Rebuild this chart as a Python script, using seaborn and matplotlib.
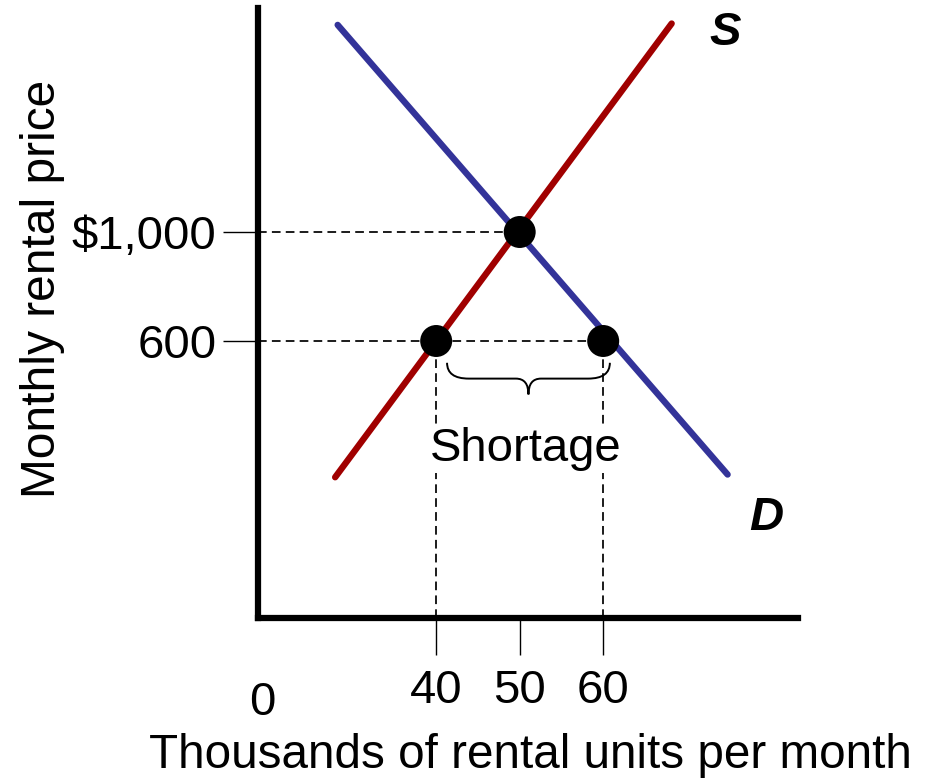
import numpy as np
import pandas as pd
import matplotlib
matplotlib.use("Agg")
import matplotlib.pyplot as plt
import seaborn as sns
from matplotlib.path import Path
from matplotlib.patches import PathPatch

# ---- data ----
supply_q = [27.9, 68.2]
supply_p = [100, 1765]
demand_q = [28.2, 74.9]
demand_p = [1760, 110]
point_q = [40, 50, 60]
point_p = [600, 1000, 600]
x_ticks = [40, 50, 60]
x_tick_labels = ["40", "50", "60"]
y_ticks = [600, 1000]
y_tick_labels = ["600", "$1,000"]
ceiling_price = 600
equilibrium_price = 1000
equilibrium_qty = 50
qty_supplied = 40
qty_demanded = 60

sns.set_theme(style="white")
plt.rcParams['font.family'] = ['Liberation Sans', 'DejaVu Sans']

W, H = 929, 779
fig = plt.figure(figsize=(W / 100, H / 100), dpi=100)
fig.patch.set_facecolor("white")
ax = fig.add_axes([258 / W, (H - 618) / H, 540 / W, 610 / H])
ax.set_facecolor("white")
XMIN, XMAX = 18.66, 83.33
YMIN, YMAX = -416.5, 1822

RED = "#A00000"
BLUE = "#333399"
FS = 34

# supply & demand lines
df_s = pd.DataFrame({"q": supply_q, "p": supply_p})
df_d = pd.DataFrame({"q": demand_q, "p": demand_p})
sns.lineplot(data=df_s, x="q", y="p", color=RED, lw=4.6, ax=ax,
             sort=False, estimator=None, zorder=3)
sns.lineplot(data=df_d, x="q", y="p", color=BLUE, lw=4.6, ax=ax,
             sort=False, estimator=None, zorder=3)

# dashed guide lines
dash = (0, (5.0, 3.0))
ax.hlines([equilibrium_price], XMIN, equilibrium_qty, colors="black",
          linestyles=[dash], lw=1.25, zorder=2)
ax.hlines([ceiling_price], XMIN, qty_demanded, colors="black",
          linestyles=[dash], lw=1.25, zorder=2)
ax.vlines([qty_supplied, qty_demanded], YMIN, ceiling_price, colors="black",
          linestyles=[dash], lw=1.25, zorder=2)

# points
sns.scatterplot(x=point_q, y=point_p, s=530, color="black", edgecolor="none",
                ax=ax, zorder=5, legend=False)

# brace for shortage
bx0, bx1 = 41.3, 60.8
bm = (bx0 + bx1) / 2
ytop, ymid, ytip = 520, 462, 404
dx, dt = 2.6, 1.5
verts = [(bx0, ytop), (bx0, ymid), (bx0 + dx, ymid),
         (bm - dt, ymid), (bm, ymid), (bm, ytip),
         (bm, ymid), (bm + dt, ymid),
         (bx1 - dx, ymid), (bx1, ymid), (bx1, ytop)]
codes = [Path.MOVETO, Path.CURVE3, Path.CURVE3, Path.LINETO,
         Path.CURVE3, Path.CURVE3, Path.CURVE3, Path.CURVE3,
         Path.LINETO, Path.CURVE3, Path.CURVE3]
ax.add_patch(PathPatch(Path(verts, codes), fc="none", ec="black", lw=1.4, zorder=4))

ax.text(50.75, 160, "Shortage", ha="center", va="baseline", fontsize=FS,
        color="black", zorder=6,
        bbox=dict(boxstyle="square,pad=0.05", fc="white", ec="none"))

ax.text(74.59, 1687, "S", ha="center", va="baseline", fontsize=FS,
        fontweight="bold", fontstyle="italic", color="black")
ax.text(79.5, -94.5, "D", ha="center", va="baseline", fontsize=FS,
        fontweight="bold", fontstyle="italic", color="black")

fig.text(262 / W, 1 - 715 / H, "0", ha="center", va="baseline", fontsize=FS,
         color="black")

# axes
ax.set_xlim(XMIN, XMAX)
ax.set_ylim(YMIN, YMAX)
ax.set_xticks(x_ticks, x_tick_labels)
ax.set_yticks(y_ticks, y_tick_labels)
ax.tick_params(axis="x", which="major", bottom=True, direction="out",
               length=26.6, width=1.0, color="black", pad=10, labelsize=FS,
               labelcolor="black")
ax.tick_params(axis="y", which="major", left=True, direction="out",
               length=25, width=1.0, color="black", pad=5, labelsize=FS,
               labelcolor="black")
for side in ["top", "right"]:
    ax.spines[side].set_visible(False)
for side in ["left", "bottom"]:
    ax.spines[side].set_visible(True)
    ax.spines[side].set_linewidth(4.5)
    ax.spines[side].set_color("black")
    ax.spines[side].set_capstyle("projecting")
    ax.spines[side].set_zorder(6)

ax.set_xlabel("Thousands of rental units per month", fontsize=34.3, color="black")
ax.set_ylabel("Monthly rental price", fontsize=34.5, color="black")
ax.xaxis.set_label_coords((530 - 258) / 540, (618 - 767.7) / 610)
ax.xaxis.label.set_verticalalignment("baseline")
ax.yaxis.set_label_coords((55 - 258) / 540, (618 - 289) / 610)
ax.yaxis.label.set_verticalalignment("baseline")
ax.yaxis.label.set_horizontalalignment("center")
ax.grid(False)

fig.savefig("out.png", dpi=100, facecolor="white")
